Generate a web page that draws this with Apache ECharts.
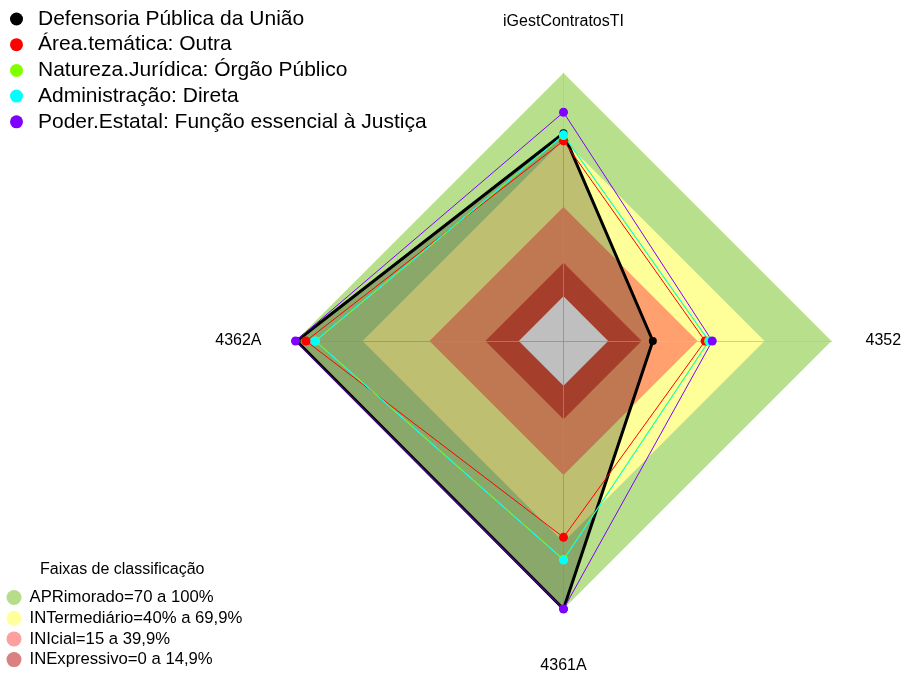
<!DOCTYPE html>
<html>
<head>
<meta charset="utf-8">
<script src="https://cdn.jsdelivr.net/npm/echarts@6/dist/echarts.min.js"></script>
<style>
  html, body { margin: 0; padding: 0; background: #fff; }
  #chart { width: 905px; height: 675px; }
</style>
</head>
<body>
<div id="chart"></div>
<script>
// eixos do radar (anti-horário a partir do topo)
const indicators = ['iGestContratosTI', '4362A', '4361A', '4352']

// grupos comparados
const groupNames = [
  'Defensoria Pública da União',
  'Área.temática: Outra',
  'Natureza.Jurídica: Órgão Público',
  'Administração: Direta',
  'Poder.Estatal: Função essencial à Justiça'
]
const defensoria = [73, 99.5, 100, 20]
const areaOutra = [69.6, 95.3, 67.9, 43.4]
const naturezaOrgao = [72, 91, 77.8, 45]
const adminDireta = [72.3, 91.3, 78.1, 45.2]
const poderJustica = [82.4, 100, 100, 46.6]
const groupValues = [defensoria, areaOutra, naturezaOrgao, adminDireta, poderJustica]

// faixas de classificação
const bandNames = [
  'APRimorado=70 a 100%',
  'INTermediário=40% a 69,9%',
  'INIcial=15 a 39,9%',
  'INExpressivo=0 a 14,9%'
]
const bandLevels = [100, 70, 40, 15, 0]
const axisMin = -20
const axisMax = 100

// cores
const groupColors = ['#000000', '#ff0000', '#80ff00', '#00ffff', '#8000ff']
const bandFill = ['#b8e08c', '#ffff99', '#ffa06e', '#dd553a', '#ffffff']
const bandLegendColors = ['#b5dd8a', '#ffff9c', '#ffa0a0', '#db8080']

const font = 'Liberation Sans, Arial, sans-serif'
const chart = echarts.init(document.getElementById('chart'))

const bandData = bandLevels.map((lvl, i) => ({
  name: i < bandNames.length ? bandNames[i] : '',
  value: indicators.map(() => lvl),
  symbol: 'none',
  lineStyle: { width: 0, opacity: 0 },
  areaStyle: { color: bandFill[i], opacity: 1 }
}))

const groupSeries = groupNames.map((name, i) => ({
  type: 'radar',
  z: 3,
  silent: true,
  data: [{
    name: name,
    value: groupValues[i],
    symbol: 'circle',
    symbolSize: i === 0 ? 8 : 9,
    itemStyle: { color: groupColors[i] },
    lineStyle: { color: groupColors[i], width: i === 0 ? 3 : 1 },
    areaStyle: i === 0 ? { color: 'rgba(0,0,0,0.25)', opacity: 1 } : null
  }]
}))

chart.setOption({
  animation: false,
  title: {
    text: 'Faixas de classificação',
    left: 40,
    top: 562,
    padding: 0,
    textStyle: { fontFamily: font, fontSize: 16, fontWeight: 'normal', color: '#000', lineHeight: 16 }
  },
  legend: [
    {
      data: groupNames,
      orient: 'vertical',
      left: 10,
      top: 8.5,
      padding: 0,
      icon: 'circle',
      itemWidth: 33,
      itemHeight: 13,
      itemGap: 4.7,
      selectedMode: false,
      textStyle: { fontFamily: font, fontSize: 21, lineHeight: 21, color: '#000' }
    },
    {
      data: bandNames.map((n, i) => ({ name: n, itemStyle: { color: bandLegendColors[i] } })),
      orient: 'vertical',
      left: 6.5,
      top: 589,
      padding: 0,
      icon: 'circle',
      itemWidth: 21,
      itemHeight: 15,
      itemGap: 3.7,
      selectedMode: false,
      textStyle: { fontFamily: font, fontSize: 16.7, lineHeight: 16, color: '#000' }
    }
  ],
  radar: {
    center: [563.5, 341],
    radius: 268,
    startAngle: 90,
    shape: 'polygon',
    z: 2,
    nameGap: 34,
    indicator: indicators.map(n => ({ name: n, min: axisMin, max: axisMax })),
    axisName: {
      color: '#000',
      fontFamily: font,
      fontSize: 16,
      formatter: (name) => (name === indicators[0] || name === indicators[2]) ? '{tb|' + name + '}' : name,
      rich: { tb: { fontFamily: font, fontSize: 16, color: '#000', padding: [15, 0, 9, 0] } }
    },
    axisLine: { lineStyle: { color: 'rgba(190,190,190,0.8)', width: 1 } },
    splitLine: { show: false },
    splitArea: { show: false },
    axisTick: { show: false },
    axisLabel: { show: false }
  },
  series: [
    { type: 'radar', z: 1, silent: true, data: bandData }
  ].concat(groupSeries)
})
</script>
</body>
</html>
